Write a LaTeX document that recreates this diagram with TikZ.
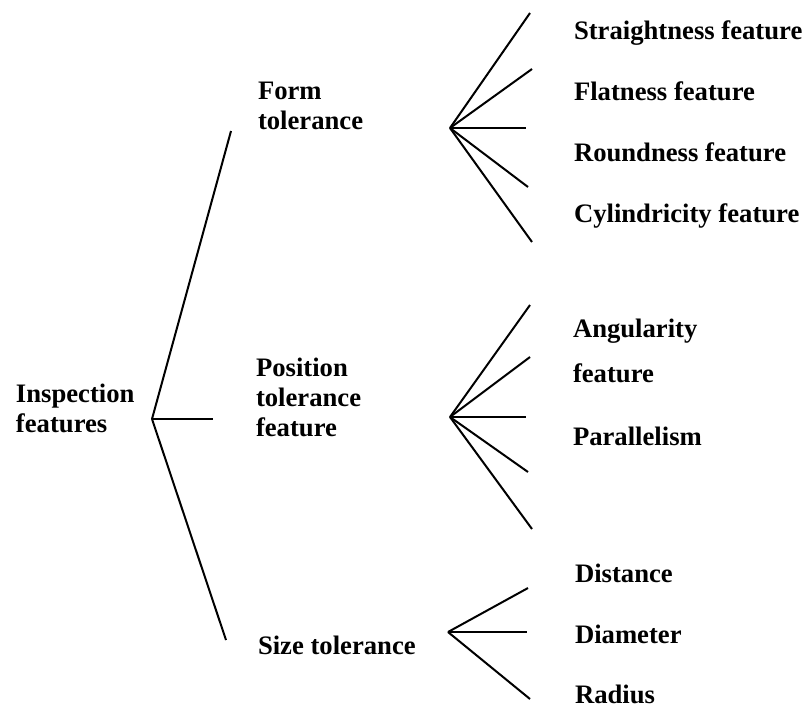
\documentclass[tikz,border=0pt]{standalone}
\usepackage{fontspec}
\setmainfont{Liberation Serif}
\usepackage{tikz}
\usetikzlibrary{positioning}

\begin{document}
\begin{tikzpicture}[
  x=0.75pt, y=-0.75pt,
  line width=1.5pt,
  label/.style = {anchor=base west, inner sep=0pt, align=left,
                  font=\fontsize{20}{22.5}\selectfont\bfseries},
]
\useasboundingbox (0,0) rectangle (806,708);

%── Text nodes (base = last line) ─────────────────────────────────────────────
\node[label] (root)  at (15,  432) {Inspection\\features};
\node[label] (form)  at (257, 129) {Form\\tolerance};
\node[label] (posn)  at (255, 436) {Position\\tolerance\\feature};
\node[label] (size)  at (257, 654) {Size tolerance};

% Form row
\node[label] (strt)  at (573,  39) {Straightness feature};
\node[label] (flat)  at (573, 100) {Flatness feature};
\node[label] (rnd)   at (573, 161) {Roundness feature};
\node[label] (cyl)   at (573, 222) {Cylindricity feature};

% Position row
\node[label] (ang)   at (572, 382) {Angularity\\[11pt]feature};
\node[label] (par)   at (572, 445) {Parallelism};

% Size row
\node[label] (dist)  at (574, 582) {Distance};
\node[label] (diam)  at (574, 643) {Diameter};
\node[label] (rad)   at (574, 703) {Radius};

%── Hub coordinates ───────────────────────────────────────────────────────────
\coordinate (hroot) at (152, 419);
\coordinate (hform) at (450, 128);
\coordinate (hposn) at (450, 417);
\coordinate (hsize) at (448, 632);

%── Branch ends ───────────────────────────────────────────────────────────────
\coordinate (eform) at (231, 131);
\coordinate (eposn) at (213, 419);
\coordinate (esize) at (226, 640);

\coordinate (f1) at (530,  13);
\coordinate (f2) at (532,  69);
\coordinate (f3) at (526, 128);
\coordinate (f4) at (528, 187);
\coordinate (f5) at (532, 242);

\coordinate (p1) at (530, 305);
\coordinate (p2) at (530, 357);
\coordinate (p3) at (526, 417);
\coordinate (p4) at (528, 472);
\coordinate (p5) at (532, 529);

\coordinate (s1) at (528, 588);
\coordinate (s2) at (527, 632);
\coordinate (s3) at (530, 699);

%── Root fan ──────────────────────────────────────────────────────────────────
\draw (hroot) -- (eform);
\draw (hroot) -- (eposn);
\draw (hroot) -- (esize);

%── Sub fans ──────────────────────────────────────────────────────────────────
\foreach \e in {f1,f2,f3,f4,f5} \draw (hform) -- (\e);
\foreach \e in {p1,p2,p3,p4,p5} \draw (hposn) -- (\e);
\foreach \e in {s1,s2,s3}       \draw (hsize) -- (\e);

\end{tikzpicture}
\end{document}
